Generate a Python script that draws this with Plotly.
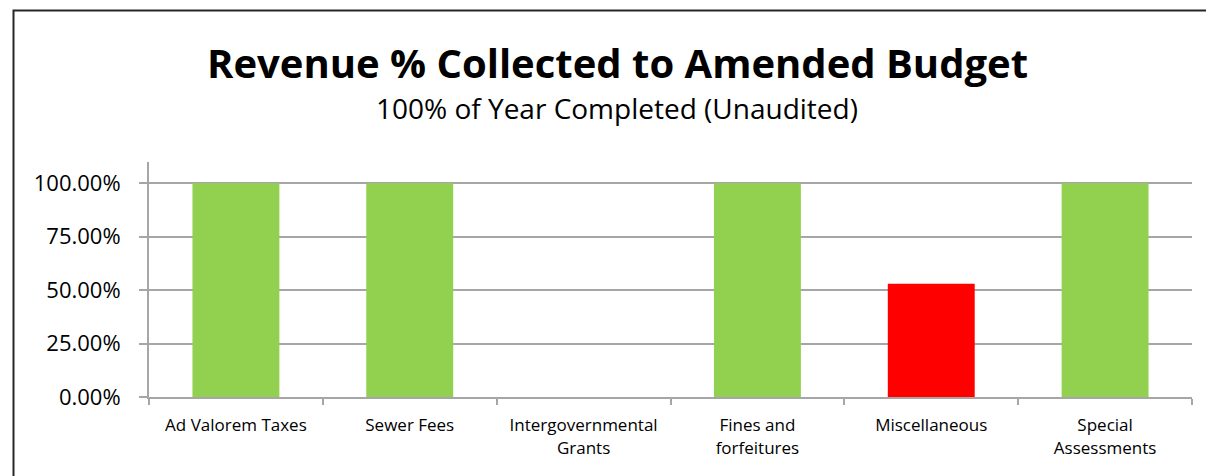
import plotly.graph_objects as go

# Revenue collected as a share of the amended budget, by source
categories = [
    "Ad Valorem Taxes",
    "Sewer Fees",
    "Intergovernmental<br>Grants",
    "Fines and<br>forfeitures",
    "Miscellaneous",
    "Special<br>Assessments",
]
pct_collected = [1.00, 1.00, 0.00, 1.00, 0.53, 1.00]
bar_colors = ["#92D050", "#92D050", "#92D050", "#92D050", "#FF0000", "#92D050"]
y_ticks = [0, 0.25, 0.5, 0.75, 1.0]
y_tick_labels = ["0.00%", "25.00%", "50.00%", "75.00%", "100.00%"]

title_text = "<b>Revenue % Collected to Amended Budget</b>"
subtitle_text = "100% of Year Completed (Unaudited)"

W, H = 1206, 476
M_L, M_R, M_T, M_B = 149, 14, 162, 79
plot_w = W - M_L - M_R
plot_h = H - M_T - M_B


def px_x(x):
    return (x - M_L) / plot_w


def px_y(y):
    return 1 + (M_T - y) / plot_h


FONT = "Open Sans"
GRID = "#A6A6A6"

fig = go.Figure(
    go.Bar(
        x=categories,
        y=pct_collected,
        marker=dict(color=bar_colors, line=dict(width=0)),
        hoverinfo="skip",
    )
)

fig.update_layout(
    width=W,
    height=H,
    margin=dict(l=M_L, r=M_R, t=M_T, b=M_B),
    paper_bgcolor="white",
    plot_bgcolor="white",
    bargap=0.5,
    showlegend=False,
    font=dict(family=FONT, color="#000000"),
)

fig.update_xaxes(
    type="category",
    showline=True,
    linecolor=GRID,
    linewidth=2,
    ticks="outside",
    tickson="boundaries",
    ticklen=6,
    tickwidth=2,
    tickcolor=GRID,
    ticklabelstandoff=12,
    tickfont=dict(family=FONT, size=17, color="#000000"),
    showgrid=False,
)

fig.update_yaxes(
    range=[0, 1.1],
    tickvals=y_ticks,
    ticktext=y_tick_labels,
    showline=True,
    linecolor=GRID,
    linewidth=2,
    ticks="outside",
    ticklen=8,
    tickwidth=2,
    tickcolor=GRID,
    ticklabelstandoff=14,
    showgrid=True,
    gridcolor=GRID,
    gridwidth=2,
    zeroline=False,
    tickfont=dict(family=FONT, size=22, color="#000000"),
)

fig.add_annotation(
    text=title_text,
    xref="paper", yref="paper",
    x=px_x(617), y=px_y(63),
    xanchor="center", yanchor="middle",
    showarrow=False,
    font=dict(family=FONT, size=40, color="#000000"),
)
fig.add_annotation(
    text=subtitle_text,
    xref="paper", yref="paper",
    x=px_x(617), y=px_y(108),
    xanchor="center", yanchor="middle",
    showarrow=False,
    font=dict(family=FONT, size=28, color="#000000"),
)

# Frame around the chart: a box whose right and bottom sides fall outside the canvas
fig.add_shape(
    type="rect", xref="paper", yref="paper",
    x0=px_x(13.5), x1=px_x(W + 30), y0=px_y(10.5), y1=px_y(H + 30),
    line=dict(color="#262626", width=2),
    fillcolor="rgba(0,0,0,0)",
    layer="below",
)

# Keep the page flush with the figure so no scrollbars appear
page_css = (
    "document.documentElement.style.margin='0';"
    "document.documentElement.style.overflow='hidden';"
    "document.body.style.margin='0';"
    "document.body.style.overflow='hidden';"
)

fig.write_html("out.html", config={"displayModeBar": False}, post_script=page_css)
